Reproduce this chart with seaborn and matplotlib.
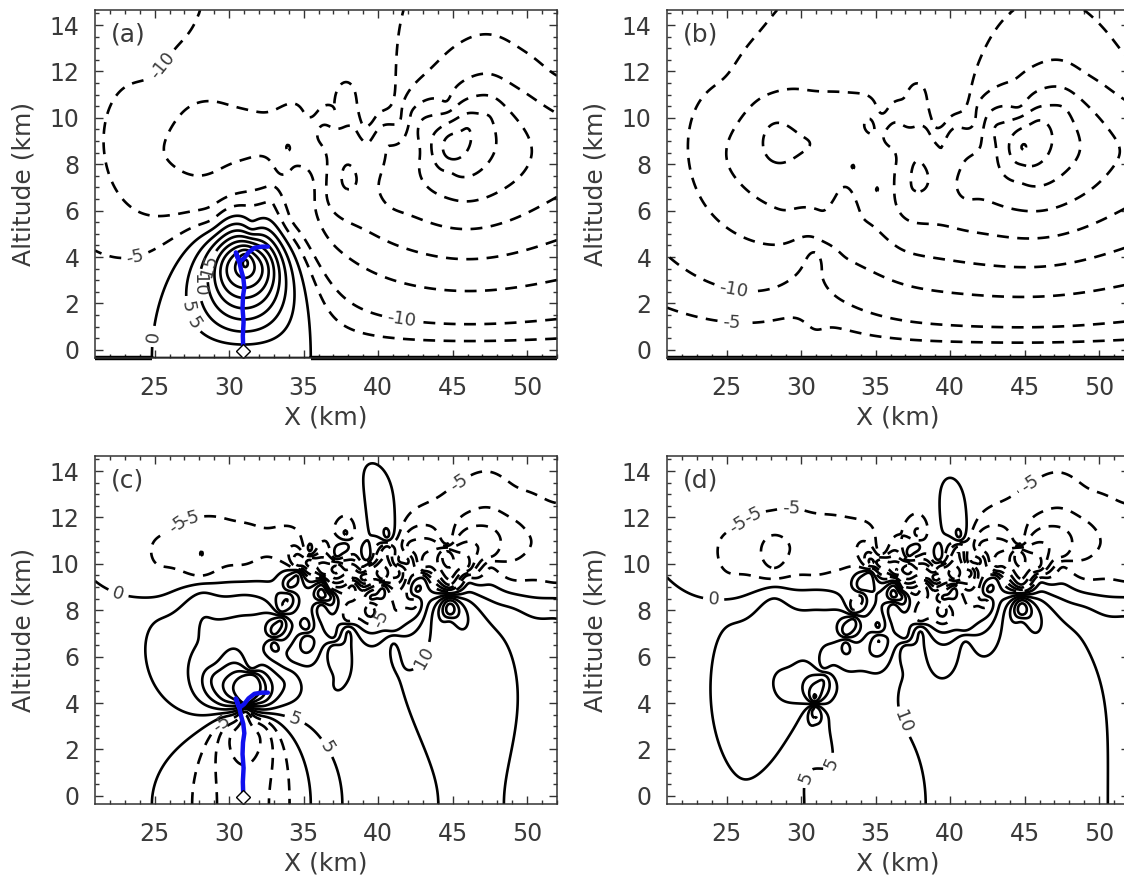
import numpy as np
import matplotlib
matplotlib.use("Agg")
import matplotlib.pyplot as plt
import seaborn as sns

# model domain (km); the ground is the bottom edge of the domain
x_range = [21, 52]
z_range = [-0.35, 14.65]

# broad charge layers, built from line charges spread along x
layer_x = [25, 28, 31, 34, 37, 40, 43, 46, 49, 52, 55, 58, 61, 64]
neg_layer_z = [8.4, 8.9, 9.1, 9.0, 8.9, 8.8, 8.7, 8.7, 8.7, 8.7, 8.7, 8.7, 8.7, 8.7]
neg_layer_q = [-5.0, -5.8, -6.2, -6.2, -6.4, -6.6, -6.6, -6.6, -6.3, -6.0, -6.0, -6.0, -6.0, -6.0]
pos_layer_z = [11.7, 11.9, 11.9, 11.7, 11.5, 11.4, 11.5, 11.8, 12.0, 12.2, 12.4, 12.5, 12.5, 12.5]
pos_layer_q = [3.6, 3.8, 3.8, 3.8, 3.8, 3.8, 3.8, 3.8, 3.8, 3.8, 3.8, 3.8, 3.8, 3.8]
layer_s = 1.4

# concentrated charges before the flash (panels a, c): x, z, size, strength
pre_x = [31.1, 29.9, 32.3, 28.9, 31.5, 34.1, 37.0, 44.8, 28.2]
pre_z = [3.85, 3.6, 3.6, 5.5, 5.3, 5.5, 5.0, 8.7, 9.3]
pre_s = [0.35, 1.0, 1.0, 0.8, 0.4, 0.8, 0.8, 0.6, 1.0]
pre_q = [10.0, 15.0, 15.0, -5.0, -6.0, -5.0, -1.0, -15.0, -6.0]

# concentrated charges after the flash (panels b, d)
post_x = [30.9, 31.0, 28.9, 31.5, 34.1, 37.0, 31.0, 31.0, 31.0, 32.6, 44.8, 28.2]
post_z = [3.95, 3.0, 5.5, 5.3, 5.5, 5.0, 1.2, 2.2, 3.2, 3.4, 8.7, 9.3]
post_s = [0.3, 2.0, 0.8, 0.4, 0.8, 0.8, 0.35, 0.35, 0.35, 0.35, 0.6, 1.0]
post_q = [6.0, 10.0, -2.5, -4.0, -2.5, -1.0, -1.2, -1.2, -1.2, -1.5, -15.0, -6.0]

# small charge pockets in the upper part of the storm (both cases)
pocket_x = [33.5, 34.6, 35.4, 36.3, 37.2, 38.3, 39.3, 40.3, 41.4, 43.0, 44.6, 46.0, 36.2, 38.0,
            35.2, 40.6, 39.5, 41.0, 37.0, 33.0, 42.5, 47.5, 34.0, 37.8, 36.8, 39.0, 44.8, 42.0]
pocket_z = [7.8, 9.8, 10.3, 9.4, 10.1, 9.3, 10.0, 9.2, 9.9, 9.6, 10.7, 9.6, 8.4, 7.4,
            7.0, 10.9, 8.3, 7.0, 6.6, 6.8, 8.6, 10.2, 8.8, 11.0, 8.8, 9.6, 7.7, 10.4]
pocket_s = [0.35, 0.35, 0.35, 0.4, 0.35, 0.4, 0.4, 0.35, 0.4, 0.4, 0.35, 0.4, 0.4, 0.4,
            0.4, 0.35, 0.4, 0.5, 0.4, 0.35, 0.4, 0.5, 0.4, 0.4, 0.35, 0.3, 0.4, 0.4]
pocket_q = [-5.0, -6.5, 6.5, -7.0, 6.5, -6.5, 7.0, -6.5, 6.0, -5.0, 6.0, -5.0, 7.0, -5.0,
            5.0, 5.5, 6.0, -4.0, -4.0, 4.5, 4.5, -4.0, 5.0, -4.5, -4.0, 4.0, 3.5, -4.0]

# leader channel (panels a, c)
leader_x = [30.95, 30.92, 30.97, 30.9, 30.93, 31.02, 30.95, 30.8, 30.7, 30.55, 30.45, 30.7, 31.0, 31.3, 31.7, 32.2, 32.6]
leader_z = [0.0, 0.6, 1.2, 1.8, 2.3, 2.7, 3.1, 3.45, 3.75, 4.0, 4.2, 3.8, 3.95, 4.2, 4.4, 4.45, 4.45]

pot_levels = [-80, -70, -60, -50, -40, -30, -20, -10, -5] + list(range(0, 85, 5))
ez_levels = [-30, -25, -20, -15, -10, -5, 0, 5, 10, 15, 20, 25, 30]
ez_scale = 1.5

x = np.linspace(x_range[0], x_range[1], 311)
z = np.linspace(z_range[0], z_range[1], 301)
X, Z = np.meshgrid(x, z)
H = Z - z_range[0]


def potential(cx, cz, cs, cq):
    phi = np.zeros_like(X)
    for x0, z0, s, q in zip(cx, cz, cs, cq):
        h0 = z0 - z_range[0]
        dx2 = (X - x0) ** 2
        phi += 0.5 * q * np.log((dx2 + (H + h0) ** 2 + s ** 2) / (dx2 + (H - h0) ** 2 + s ** 2))
    return phi


def case_potential(cx, cz, cs, cq):
    n = len(layer_x)
    allx = list(cx) + pocket_x + layer_x + layer_x
    allz = list(cz) + pocket_z + neg_layer_z + pos_layer_z
    alls = list(cs) + pocket_s + [layer_s] * (2 * n)
    allq = list(cq) + pocket_q + neg_layer_q + pos_layer_q
    return potential(allx, allz, alls, allq)


phi_pre = case_potential(pre_x, pre_z, pre_s, pre_q)
phi_post = case_potential(post_x, post_z, post_s, post_q)
ez_pre = -ez_scale * np.gradient(phi_pre, z, axis=0)
ez_post = -ez_scale * np.gradient(phi_post, z, axis=0)

sns.set_theme(style="ticks")
plt.rcParams["font.family"] = ["DejaVu Sans"]
txt = "#3a3a3a"

fig = plt.figure(figsize=(11.24, 8.84), dpi=100)
W, Hh = 1124, 884
boxes = {"a": (95, 10), "b": (667, 10), "c": (95, 456), "d": (667, 456)}
aw, ah = 462, 348

dash = (0, (4.5, 3.2))


def draw(ax, field, levels, labels):
    styles = [dash if lv < 0 else "solid" for lv in levels]
    cs = ax.contour(x, z, field, levels=levels, colors="black", linewidths=1.9, linestyles=styles)
    if labels:
        ax.clabel(cs, inline=True, fontsize=13, fmt="%d", manual=labels, colors=txt)
    return cs


labels_a = [(24.6, 0.6), (27.0, 0.9), (27.5, 1.9), (28.2, 2.8), (28.8, 3.6), (23.6, 4.3), (41.5, 1.1), (24.2, 12.9)]
labels_b = [(25.3, 2.1), (25.3, 1.0)]
labels_c = [(26.5, 14.0), (26.5, 11.9), (22.6, 8.8), (40.6, 7.5), (42.7, 6.1), (44.8, 14.1), (29.5, 3.1), (34.3, 3.1), (37.4, 2.4)]
labels_d = [(25.2, 14.0), (25.5, 11.9), (29.3, 12.2), (24.1, 8.2), (35.8, 2.9), (33.7, 1.0), (30.3, 0.8), (44.6, 14.2)]

panels = [("a", phi_pre, pot_levels, labels_a, True),
          ("b", phi_post, pot_levels, labels_b, False),
          ("c", ez_pre, ez_levels, labels_c, True),
          ("d", ez_post, ez_levels, labels_d, False)]

for key, field, levels, labels, leader in panels:
    left, top = boxes[key]
    ax = fig.add_axes([left / W, 1 - (top + ah) / Hh, aw / W, ah / Hh])
    draw(ax, field, levels, labels)
    if key in ("a", "b"):
        # zero contour lying on the ground where the field above is negative
        ground = np.where(field[1] < 0, z_range[0], np.nan)
        ax.plot(x, ground, color="black", lw=3.2, clip_on=False, solid_capstyle="butt")
    if leader:
        sns.lineplot(x=leader_x, y=leader_z, sort=False, color="#1010ee", lw=3.2, ax=ax, estimator=None)
        ax.plot(leader_x[0], -0.05, marker="D", ms=7, mfc="white", mec="black", mew=1.0, clip_on=False)
    ax.set_xlim(*x_range)
    ax.set_ylim(*z_range)
    ax.set_xticks([25, 30, 35, 40, 45, 50])
    ax.set_yticks([0, 2, 4, 6, 8, 10, 12, 14])
    ax.set_xticks(np.arange(22, 53, 1), minor=True)
    ax.set_yticks(np.arange(0, 14.6, 0.5), minor=True)
    ax.tick_params(which="both", direction="in", top=True, right=True, colors="#333333", labelcolor=txt,
                   labelsize=17)
    ax.tick_params(which="major", length=6, width=1.0)
    ax.tick_params(which="minor", length=3, width=1.0)
    ax.tick_params(axis="x", pad=13)
    ax.tick_params(axis="y", pad=11)
    for sp in ax.spines.values():
        sp.set_linewidth(1.1)
        sp.set_color("#333333")
    ax.set_xlabel("X (km)", fontsize=18, color=txt, labelpad=4)
    ax.set_ylabel("Altitude (km)", fontsize=18, color=txt, labelpad=10)
    ax.text(0.035, 0.965, "(%s)" % key, transform=ax.transAxes, fontsize=18, color=txt, va="top", ha="left")

fig.savefig("out.png", dpi=100)
